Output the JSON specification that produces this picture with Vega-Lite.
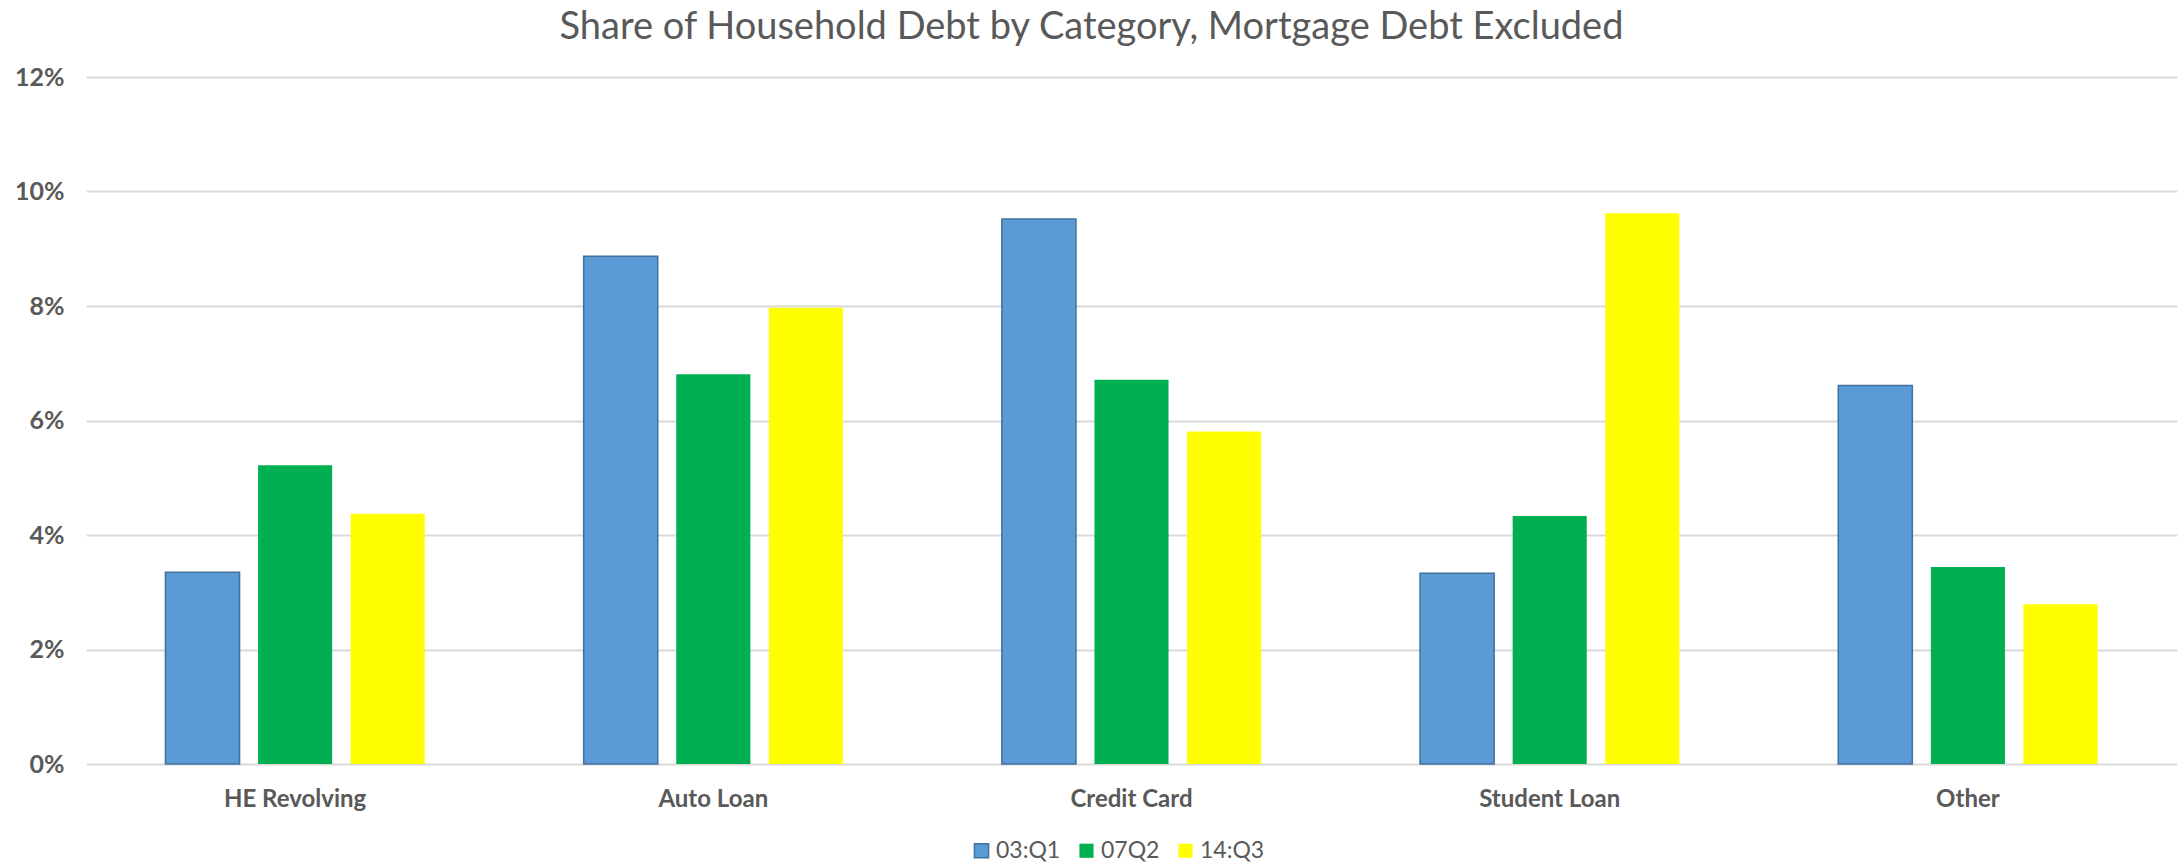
{
  "$schema": "https://vega.github.io/schema/vega-lite/v6.json",
  "autosize": {"type": "none"},
  "width": 2091,
  "height": 687,
  "padding": {"left": 86, "top": 77, "right": 6, "bottom": 102},
  "background": "white",
  "title": {
    "text": "Share of Household Debt by Category, Mortgage Debt Excluded",
    "font": "Lato",
    "fontSize": 38,
    "fontWeight": "normal",
    "color": "#595959",
    "anchor": "middle",
    "dx": -40,
    "offset": 18
  },
  "data": {
    "values": [
      {"category": "HE Revolving", "period": "03:Q1", "share": 0.0335},
      {"category": "HE Revolving", "period": "07Q2", "share": 0.0522},
      {"category": "HE Revolving", "period": "14:Q3", "share": 0.0437},
      {"category": "Auto Loan", "period": "03:Q1", "share": 0.0887},
      {"category": "Auto Loan", "period": "07Q2", "share": 0.0681},
      {"category": "Auto Loan", "period": "14:Q3", "share": 0.0797},
      {"category": "Credit Card", "period": "03:Q1", "share": 0.0952},
      {"category": "Credit Card", "period": "07Q2", "share": 0.0671},
      {"category": "Credit Card", "period": "14:Q3", "share": 0.0581},
      {"category": "Student Loan", "period": "03:Q1", "share": 0.0333},
      {"category": "Student Loan", "period": "07Q2", "share": 0.0433},
      {"category": "Student Loan", "period": "14:Q3", "share": 0.0962},
      {"category": "Other", "period": "03:Q1", "share": 0.0661},
      {"category": "Other", "period": "07Q2", "share": 0.0344},
      {"category": "Other", "period": "14:Q3", "share": 0.0279}
    ]
  },
  "mark": {"type": "bar", "strokeWidth": 1.5},
  "encoding": {
    "x": {
      "field": "category",
      "type": "nominal",
      "sort": ["HE Revolving", "Auto Loan", "Credit Card", "Student Loan", "Other"],
      "scale": {"paddingInner": 0.38, "paddingOuter": 0.19},
      "axis": {
        "title": null,
        "labelAngle": 0,
        "labelFont": "Lato",
        "labelFontSize": 24,
        "labelFontWeight": "bold",
        "labelColor": "#595959",
        "labelPadding": 23,
        "domain": false,
        "ticks": false,
        "grid": false
      }
    },
    "xOffset": {
      "field": "period",
      "type": "nominal",
      "sort": ["03:Q1", "07Q2", "14:Q3"],
      "scale": {"paddingInner": 0.2, "paddingOuter": 0}
    },
    "y": {
      "field": "share",
      "type": "quantitative",
      "scale": {"domain": [0, 0.12], "nice": false},
      "axis": {
        "title": null,
        "values": [0, 0.02, 0.04, 0.06, 0.08, 0.1, 0.12],
        "format": ".0%",
        "labelFont": "Lato",
        "labelFontSize": 25,
        "labelFontWeight": "bold",
        "labelColor": "#595959",
        "labelPadding": 22,
        "domain": false,
        "ticks": false,
        "grid": true,
        "gridColor": "#D9D9D9",
        "gridWidth": 1.8
      }
    },
    "color": {
      "field": "period",
      "type": "nominal",
      "sort": ["03:Q1", "07Q2", "14:Q3"],
      "scale": {"domain": ["03:Q1", "07Q2", "14:Q3"], "range": ["#5B9BD5", "#00B050", "#FFFF00"]},
      "legend": {
        "title": null,
        "orient": "none",
        "legendX": 884,
        "legendY": 762,
        "direction": "horizontal",
        "symbolType": "square",
        "symbolSize": 200,
        "symbolStrokeWidth": 1.5,
        "symbolOpacity": 1,
        "labelFont": "Lato",
        "labelFontSize": 23,
        "labelColor": "#595959",
        "labelOffset": 3,
        "columnPadding": 14
      }
    },
    "stroke": {
      "field": "period",
      "type": "nominal",
      "sort": ["03:Q1", "07Q2", "14:Q3"],
      "scale": {"domain": ["03:Q1", "07Q2", "14:Q3"], "range": ["#41719C", "transparent", "transparent"]},
      "legend": {
        "title": null,
        "orient": "none",
        "legendX": 884,
        "legendY": 762,
        "direction": "horizontal",
        "symbolType": "square",
        "symbolSize": 200,
        "symbolStrokeWidth": 1.5,
        "labelFont": "Lato",
        "labelFontSize": 23,
        "labelColor": "#595959",
        "labelOffset": 3,
        "columnPadding": 14
      }
    }
  },
  "config": {
    "view": {"stroke": null},
    "font": "Lato"
  }
}
